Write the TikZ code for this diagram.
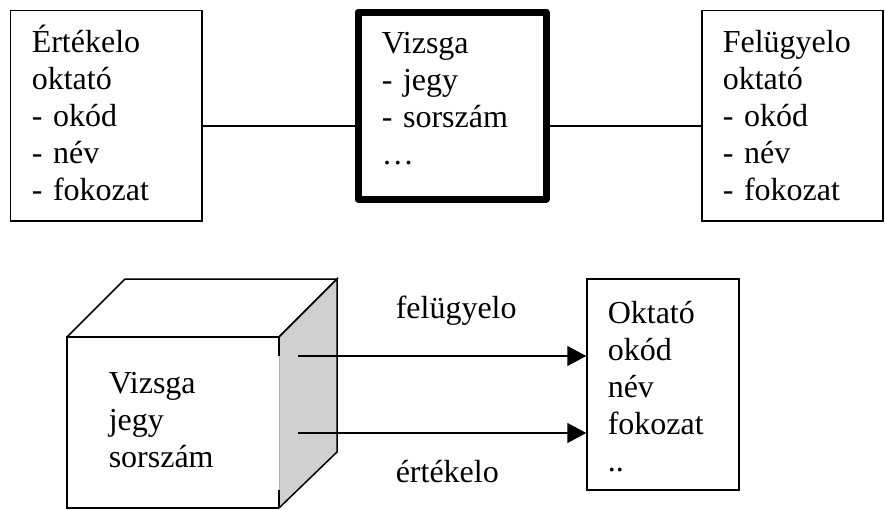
\documentclass[tikz,border=0pt]{standalone}
\usepackage{fontspec}
\setmainfont{Liberation Serif}
\usetikzlibrary{arrows.meta}
\tikzset{>={Triangle[length=19pt,width=20pt]}}
\definecolor{sidegray}{RGB}{208,208,208}

\begin{document}
\begin{tikzpicture}[x=1pt,y=-1pt,line width=1.5pt,
  every node/.style={inner sep=0pt},
  entity/.style={draw,line width=1.5pt},
  lbl/.style={anchor=base west,align=left,text width=200pt,
    font=\fontsize{32}{37}\selectfont}]
\useasboundingbox (0,0) rectangle (885,509);
% upper diagram
\node[entity,minimum width=191.5,minimum height=210.5] (ertBox) at (106.25,115.75) {};
\node[entity,line width=7pt,line join=round,minimum width=188,minimum height=187] (vizsgaBox) at (452,105.5) {};
\node[entity,minimum width=181,minimum height=210.5] (felBox) at (792.5,115.75) {};
\node[lbl] (ertText) at (31,52) {Értékelo\\oktató\\- okód\\- név\\- fokozat};
\node[lbl] (vizsgaText) at (381,53) {Vizsga\\- jegy\\- sorszám\\…};
\node[lbl] (felText) at (722,52) {Felügyelo\\oktató\\- okód\\- név\\- fokozat};
\coordinate (link) at (0,126);
\draw (ertBox.east |- link) -- (vizsgaBox.west |- link);
\draw (vizsgaBox.east |- link) -- (felBox.west |- link);
% lower diagram
\begin{scope}
  \draw (67,337) -- (125,279) -- (337,279) -- (279,337);
  \draw (279,337) -- (67,337) -- (67,508) -- (279,508);
  \fill[sidegray] (279,337) -- (337,279) -- (337,452) -- (279,508) -- cycle;
  \draw (279,337) -- (337,279) -- (337,452) -- (279,508);
  \draw[gray!60,line width=1pt] (279,337) -- (279,508);
  \draw (279,337) -- (279,356);
  \draw (279,490) -- (279,508);
\end{scope}
\node[lbl] (cubeText) at (108,393) {Vizsga\\jegy\\sorszám};
\node[entity,minimum width=152,minimum height=211] (oktBox) at (663,384.5) {};
\node[lbl] (oktText) at (607,323) {Oktató\\okód\\név\\fokozat\\..};
\coordinate (felFrom) at (298,356);
\coordinate (ertFrom) at (298,433);
\draw[->] (felFrom) -- (oktBox.west |- felFrom);
\draw[->] (ertFrom) -- (oktBox.west |- ertFrom);
\node[lbl] (felLbl) at (395,318) {felügyelo};
\node[lbl] (ertLbl) at (395,482) {értékelo};
\end{tikzpicture}
\end{document}
